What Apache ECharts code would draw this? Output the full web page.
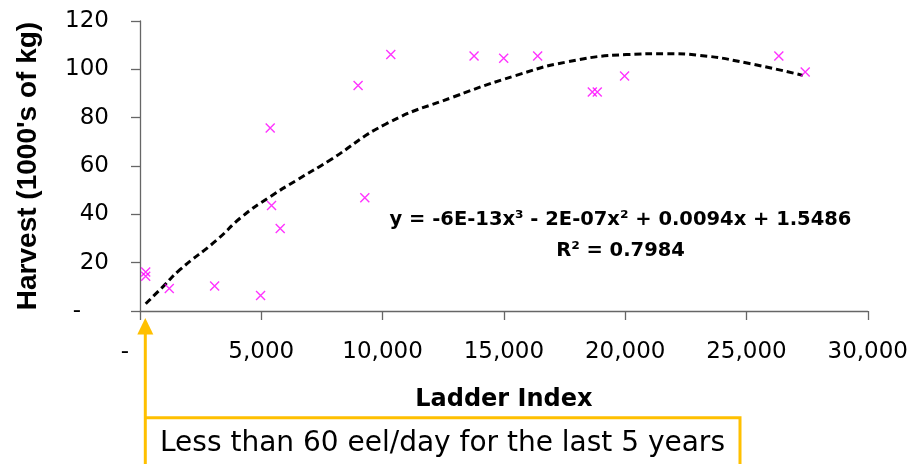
<!DOCTYPE html>
<html>
<head>
<meta charset="utf-8">
<script src="https://cdn.jsdelivr.net/npm/echarts@6/dist/echarts.min.js"></script>
<style>
html,body{margin:0;padding:0;background:#fff;}
#chart{width:911px;height:464px;}
</style>
</head>
<body>
<div id="chart"></div>
<script>
// Observed data points (Ladder Index vs Harvest)
var ladderIndex = [235, 235, 1207, 3076, 4970, 5367, 5422, 5780, 8990, 9267, 10338, 13770, 14992, 16392, 18645, 18850, 19975, 26334, 27422];
var harvest = [16.1, 14.4, 9.3, 10.3, 6.4, 75.7, 43.7, 34.1, 93.3, 46.9, 106.1, 105.5, 104.6, 105.5, 90.6, 90.6, 97.2, 105.5, 98.9];

// Polynomial trendline
var trendX = [235, 960, 1647, 3158, 4188, 5354, 6452, 7825, 10158, 12903, 15512, 17573, 20044, 21691, 23064, 25123, 27320];
var trendY = [3.0, 10.2, 17.1, 29.3, 38.9, 47.2, 54.1, 62.4, 77.5, 88.5, 97.5, 103, 106.1, 106.5, 105.8, 102.4, 97.5];

var xTicks = [0, 5000, 10000, 15000, 20000, 25000, 30000];
var yTicks = [0, 20, 40, 60, 80, 100, 120];

var equationText = 'y = -6E-13x\u00B3 - 2E-07x\u00B2 + 0.0094x + 1.5486';
var r2Text = 'R\u00B2 = 0.7984';
var noteText = 'Less than 60 eel/day for the last 5 years';

var scatterData = ladderIndex.map(function (x, i) { return [x, harvest[i]]; });
var trendData = trendX.map(function (x, i) { return [x, trendY[i]]; });

function fmtNum(v) {
  return v.toString().replace(/\B(?=(\d{3})+(?!\d))/g, ',');
}

var chart = echarts.init(document.getElementById('chart'));
var axisColor = '#666666';
var gold = '#FFC000';

chart.setOption({
  animation: false,
  backgroundColor: '#ffffff',
  grid: { left: 140, right: 43, top: 21, bottom: 153 },
  xAxis: {
    type: 'value',
    min: xTicks[0], max: xTicks[xTicks.length - 1], interval: xTicks[1] - xTicks[0],
    name: 'Ladder Index',
    nameLocation: 'middle',
    nameGap: 77,
    nameTextStyle: { fontFamily: 'DejaVu Sans', fontWeight: 'bold', fontSize: 24, color: '#000' },
    splitLine: { show: false },
    axisLine: { show: true, lineStyle: { color: axisColor, width: 1.3 } },
    axisTick: { show: true, inside: false, length: 9, lineStyle: { color: axisColor, width: 1.3 } },
    axisLabel: {
      margin: 30,
      fontFamily: 'DejaVu Sans', fontSize: 23, color: '#000',
      formatter: function (v) { return v === 0 ? '{d|-}' : fmtNum(v); },
      rich: { d: { fontFamily: 'DejaVu Sans', fontSize: 23, color: '#000', padding: [0, 30, 0, 0] } }
    }
  },
  yAxis: {
    type: 'value',
    min: yTicks[0], max: yTicks[yTicks.length - 1], interval: yTicks[1] - yTicks[0],
    name: "Harvest (1000's of kg)",
    nameLocation: 'middle',
    nameGap: 98,
    nameTextStyle: { fontFamily: 'Liberation Sans', fontWeight: 'bold', fontSize: 28, color: '#000' },
    splitLine: { show: false },
    axisLine: { show: true, lineStyle: { color: axisColor, width: 1.3 } },
    axisTick: { show: true, inside: false, length: 9, lineStyle: { color: axisColor, width: 1.3 } },
    axisLabel: {
      margin: 31,
      fontFamily: 'DejaVu Sans', fontSize: 23, color: '#000',
      formatter: function (v) { return v === 0 ? '{d|-}' : String(v); },
      rich: { d: { fontFamily: 'DejaVu Sans', fontSize: 23, color: '#000', padding: [0, 28, 0, 0] } }
    }
  },
  series: [
    {
      type: 'line',
      data: trendData,
      smooth: 0.5,
      showSymbol: false,
      symbol: 'none',
      z: 2,
      lineStyle: { color: '#000', width: 3, type: [7, 4] }
    },
    {
      type: 'scatter',
      data: scatterData,
      symbol: 'path://M0,0L10,10M10,0L0,10',
      symbolSize: 9,
      z: 3,
      itemStyle: { color: 'rgba(0,0,0,0)', borderColor: '#FF00FF', borderWidth: 1.4 }
    }
  ],
  graphic: [
    {
      type: 'text',
      position: [620.5, 210],
      style: {
        text: equationText,
        fontFamily: 'DejaVu Sans', fontWeight: 'bold', fontSize: 19.5, fill: '#000',
        textAlign: 'center'
      }
    },
    {
      type: 'text',
      position: [620.5, 241],
      style: {
        text: r2Text,
        fontFamily: 'DejaVu Sans', fontWeight: 'bold', fontSize: 19.5, fill: '#000',
        textAlign: 'center'
      }
    },
    {
      type: 'line',
      shape: { x1: 145.3, y1: 332, x2: 145.3, y2: 470 },
      style: { stroke: gold, lineWidth: 3 }
    },
    {
      type: 'polygon',
      shape: { points: [[145.3, 318], [137.3, 334.5], [153.3, 334.5]] },
      style: { fill: gold }
    },
    {
      type: 'polyline',
      shape: { points: [[145.3, 417.7], [740, 417.7], [740, 470]] },
      style: { stroke: gold, lineWidth: 3, fill: null }
    },
    {
      type: 'text',
      position: [160, 444],
      style: {
        text: noteText,
        fontFamily: 'DejaVu Sans', fontSize: 28, fill: '#000',
        textAlign: 'left', textVerticalAlign: 'middle'
      }
    }
  ]
});
</script>
</body>
</html>
